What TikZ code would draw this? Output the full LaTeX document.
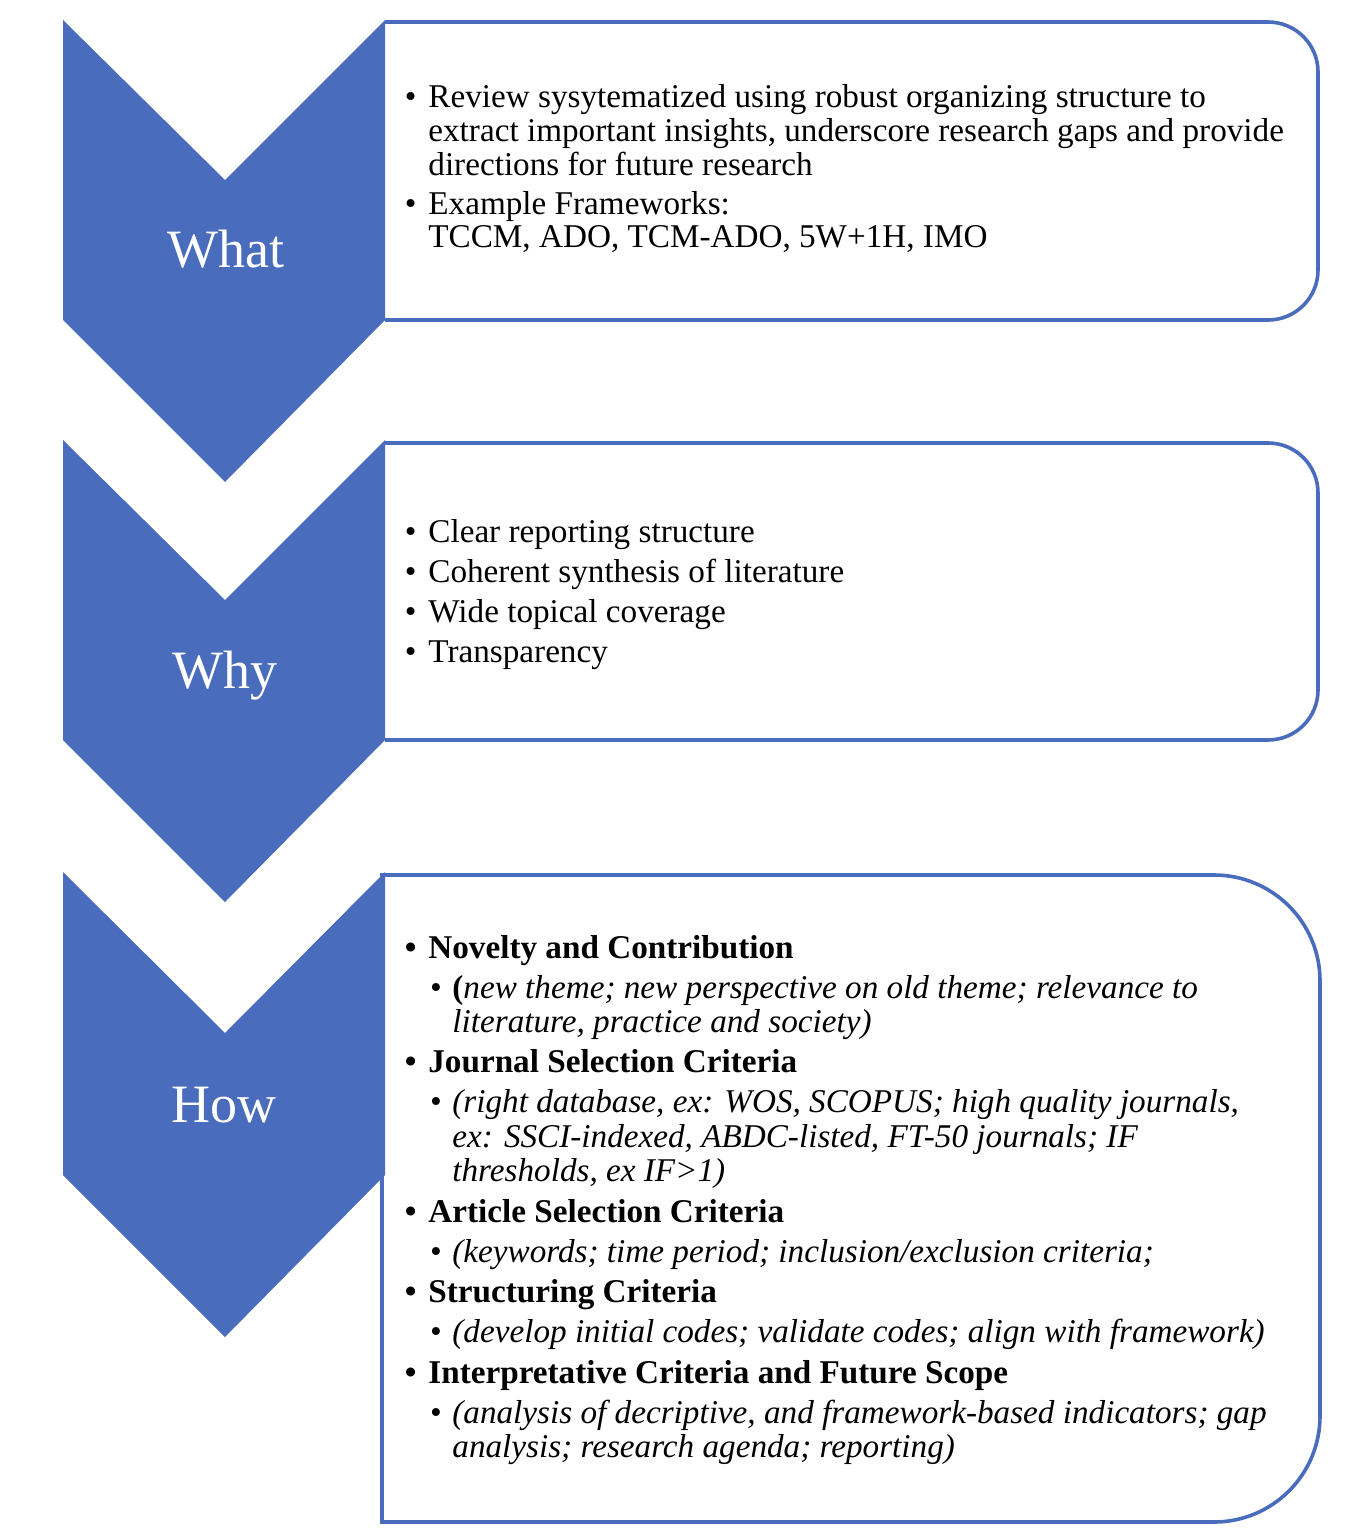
\documentclass[tikz,border=0pt]{standalone}
\usepackage{fontspec}
\setmainfont{Liberation Serif}
\definecolor{chevblue}{RGB}{74,108,188}
\newcommand{\bulA}{\llap{\textbullet\hspace{6pt}}}
\newcommand{\bulB}{\llap{\textbullet\hspace{5.5pt}}}

\begin{document}
\begin{tikzpicture}[
      x=0.5pt,
      y=0.5pt,
      every node/.style={font=\fontsize{16.6}{20}\selectfont},
      chev/.style={fill=chevblue, draw=none},
      boxline/.style={draw=chevblue, line width=1.8pt},
      head/.style={anchor=base, text=white, font=\fontsize{27}{32}\selectfont},
      txt/.style={anchor=base west, inner sep=0pt},
      hd/.style={txt, font=\fontsize{16.6}{20}\selectfont\bfseries},
      sub/.style={txt, font=\fontsize{16.6}{20}\selectfont\itshape}
    ]

    % --- 1. 描画範囲 ---
    \useasboundingbox (0,0) rectangle (1357,-1530);

    % --- 2. 右側の枠 ---
    \draw[boxline, rounded corners=25pt] (385,-22) -- (1318,-22) -- (1318,-320) -- (385,-320);
    \draw[boxline, rounded corners=25pt] (385,-443) -- (1318,-443) -- (1318,-740) -- (385,-740);
    \draw[boxline, rounded corners=53pt] (382,-875) -- (1320,-875) -- (1320,-1522) -- (382,-1522);
    \draw[boxline, line cap=rect] (382,-875) -- (382,-1522);

    % --- 3. シェブロン ---
    \fill[chev] (63,-20) -- (225,-180) -- (385,-20) -- (385,-320) -- (225,-482) -- (63,-320) -- cycle;
    \fill[chev] (63,-440) -- (225,-600) -- (385,-440) -- (385,-740) -- (225,-902) -- (63,-740) -- cycle;
    \fill[chev] (63,-872) -- (225,-1033) -- (385,-872) -- (385,-1175) -- (225,-1337) -- (63,-1175) -- cycle;

    \node[head] (what) at (226,-268) {What};
    \node[head] (why) at (225,-688) {Why};
    \node[head] (how) at (224,-1122) {How};

    % --- 4. What ---
    \node[txt] (what1) at (428,-108) {\bulA Review sysytematized using robust organizing structure to};
    \node[txt] (what2) at (428,-142) {extract important insights, underscore research gaps and provide};
    \node[txt] (what3) at (428,-176) {directions for future research};
    \node[txt] (what4) at (428,-214) {\bulA Example Frameworks:};
    \node[txt] (what5) at (428,-248) {TCCM, ADO, TCM-ADO, 5W+1H, IMO};

    % --- 5. Why ---
    \node[txt] (why1) at (428,-542) {\bulA Clear reporting structure};
    \node[txt] (why2) at (428,-582) {\bulA Coherent synthesis of literature};
    \node[txt] (why3) at (428,-622) {\bulA Wide topical coverage};
    \node[txt] (why4) at (428,-662) {\bulA Transparency};

    % --- 6. How ---
    \node[hd] (how1) at (428,-958) {\bulA Novelty and Contribution};
    \node[sub] (how2) at (452,-998) {\bulB{\upshape\bfseries(}new theme; new perspective on old theme; relevance to};
    \node[sub] (how3) at (452,-1032) {literature, practice and society)};
    \node[hd] (how4) at (428,-1072) {\bulA Journal Selection Criteria};
    \node[sub] (how5) at (452,-1112) {\bulB(right database, ex: WOS, SCOPUS; high quality journals,};
    \node[sub] (how6) at (452,-1147) {ex: SSCI-indexed, ABDC-listed, FT-50 journals; IF};
    \node[sub] (how7) at (452,-1181) {thresholds, ex IF>1)};
    \node[hd] (how8) at (428,-1222) {\bulA Article Selection Criteria};
    \node[sub] (how9) at (452,-1262) {\bulB(keywords; time period; inclusion/exclusion criteria;};
    \node[hd] (how10) at (428,-1302) {\bulA Structuring Criteria};
    \node[sub] (how11) at (452,-1342) {\bulB(develop initial codes; validate codes; align with framework)};
    \node[hd] (how12) at (428,-1383) {\bulA Interpretative Criteria and Future Scope};
    \node[sub] (how13) at (452,-1423) {\bulB(analysis of decriptive, and framework-based indicators; gap};
    \node[sub] (how14) at (452,-1457) {analysis; research agenda; reporting)};

  \end{tikzpicture}
\end{document}
